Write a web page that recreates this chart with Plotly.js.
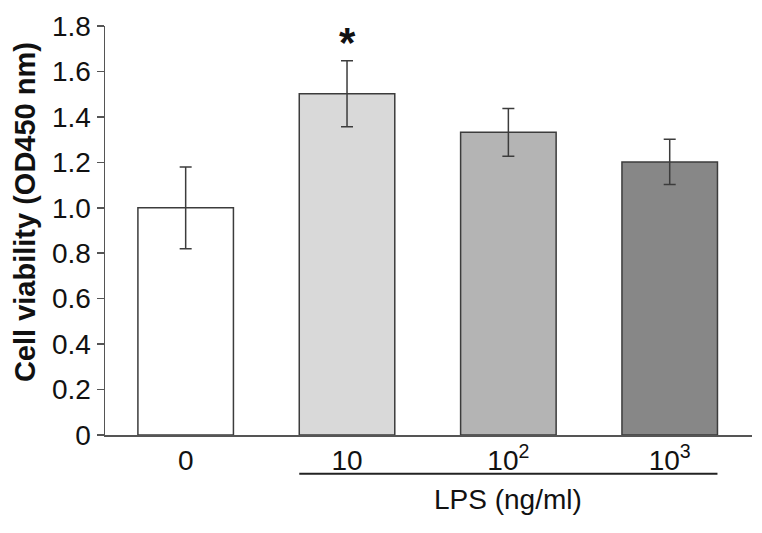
<!DOCTYPE html>
<html>
<head>
<meta charset="utf-8">
<script src="https://cdn.plot.ly/plotly-3.0.1.min.js"></script>
<style>html,body{margin:0;padding:0;background:#fff;}#chart{width:762px;height:533px;}</style>
</head>
<body>
<div id="chart"></div>
<script>
const categories = ['0', '10', '10<sup>2</sup>', '10<sup>3</sup>'];
const viability = [1.0, 1.502, 1.332, 1.202];
const errors = [0.18, 0.145, 0.105, 0.10];
const barColors = ['#ffffff', '#d9d9d9', '#b4b4b4', '#878787'];
const significance = ['', '*', '', ''];
const yTickVals = [0, 0.2, 0.4, 0.6, 0.8, 1.0, 1.2, 1.4, 1.6, 1.8];
const yTickText = ['0', '0.2', '0.4', '0.6', '0.8', '1.0', '1.2', '1.4', '1.6', '1.8'];
const groupLabel = 'LPS (ng/ml)';
const yTitle = 'Cell viability (OD450 nm)';

const FONT = 'Liberation Sans, Arial, Helvetica, sans-serif';
const dark = '#3c3c3c';
const barWidth = 0.592;

const trace = {
  type: 'bar',
  x: categories,
  y: viability,
  width: barWidth,
  marker: {color: barColors, line: {color: dark, width: 1.5}},
  error_y: {type: 'data', array: errors, visible: true, color: dark, thickness: 1.5, width: 6},
  hoverinfo: 'skip'
};

const annotations = [];
significance.forEach((s, i) => {
  if (s) {
    annotations.push({
      x: i, y: viability[i] + errors[i], xref: 'x', yref: 'y',
      text: '<b>' + s + '</b>', showarrow: false, yanchor: 'bottom', yshift: -7,
      font: {family: FONT, size: 42, color: '#111'}
    });
  }
});
annotations.push({
  x: 2, y: -0.158, xref: 'x', yref: 'paper', text: groupLabel,
  showarrow: false, yanchor: 'middle', font: {family: FONT, size: 28, color: '#111'}
});
annotations.push({
  x: 0, y: 0.545, xref: 'paper', yref: 'paper', xanchor: 'center', yanchor: 'middle',
  xshift: -80, textangle: -90, text: '<b>' + yTitle + '</b>', showarrow: false,
  font: {family: FONT, size: 29, color: '#111'}
});

const shapes = [{
  type: 'line', xref: 'x', yref: 'paper',
  x0: 1 - barWidth / 2, x1: 3 + barWidth / 2, y0: -0.095, y1: -0.095,
  line: {color: '#222', width: 2}
}];

const layout = {
  width: 762, height: 533,
  margin: {l: 105, r: 10, t: 26, b: 98},
  paper_bgcolor: '#fff', plot_bgcolor: '#fff',
  showlegend: false,
  font: {family: FONT, color: '#111'},
  xaxis: {
    type: 'category', range: [-0.5, 3.51], showline: true, linecolor: '#555', linewidth: 1.5,
    ticks: '', showgrid: false, zeroline: false, fixedrange: true,
    tickfont: {family: FONT, size: 28, color: '#111'}
  },
  yaxis: {
    range: [0, 1.8], tickvals: yTickVals, ticktext: yTickText,
    showline: true, linecolor: '#555', linewidth: 1.5,
    ticks: 'outside', ticklen: 7, tickwidth: 1.5, tickcolor: '#555',
    showgrid: false, zeroline: false,
    tickfont: {family: FONT, size: 28, color: '#111'}
  },
  annotations: annotations,
  shapes: shapes
};

Plotly.newPlot('chart', [trace], layout, {staticPlot: true, displayModeBar: false});
</script>
</body>
</html>
